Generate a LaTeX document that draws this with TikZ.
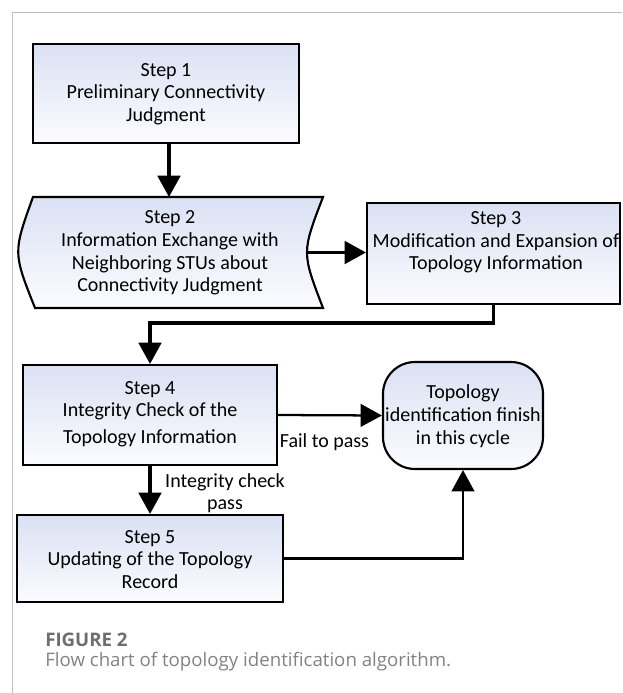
\documentclass[tikz,border=0pt]{standalone}
\usepackage{fontspec}
\setmainfont{Carlito}
\newfontfamily\capfont{Open Sans}
\usetikzlibrary{arrows.meta}
\definecolor{boxtop}{RGB}{218,225,243}
\definecolor{boxbot}{RGB}{252,252,255}
\definecolor{framegray}{RGB}{190,190,190}
\definecolor{capdark}{RGB}{110,110,110}
\definecolor{caplight}{RGB}{130,130,130}
\tikzset{
  boxshade/.style={top color=boxtop, bottom color=boxbot},
  stepbox/.style={draw=black, line width=1.6pt, boxshade, rectangle, inner sep=0pt},
  termbox/.style={draw=black, line width=1.6pt, boxshade, rectangle, rounded corners=24pt, inner sep=0pt},
  txt/.style={align=center, font=\fontsize{15pt}{17pt}\selectfont, inner sep=0pt},
  lbl/.style={align=center, font=\fontsize{15pt}{17pt}\selectfont, inner sep=1pt},
  thickarrow/.style={draw=black, line width=2.3pt, -{Triangle[length=16pt,width=17pt]}},
  thinarrow/.style={draw=black, line width=1.7pt, -{Triangle[length=16pt,width=17pt]}},
}
\begin{document}
\begin{tikzpicture}[x=0.75pt,y=-0.75pt]
\useasboundingbox (0,0) rectangle (622,693);
% outer frame lines
\draw[framegray, line width=1pt] (12.5,693) -- (12.5,12.5) -- (622,12.5);

% Step 1
\node[stepbox, minimum width=266*0.75pt, minimum height=99*0.75pt] (s1) at (166,93.5) {};
\node[txt] (t1) at (166,94) {Step 1\\Preliminary Connectivity\\Judgment};

% Step 2 (stored-data like shape)
\path[draw=black, line width=1.6pt, boxshade]
  (33,197) -- (323,197) .. controls (301.7,252.5) .. (323,308)
  -- (35,308) .. controls (13,252.5) .. (33,197) -- cycle;
\coordinate (s2top) at (169,197);
\coordinate (s2right) at (307,252.5);
\node[txt] (t2) at (170,253) {Step 2\\Information Exchange with\\Neighboring STUs about\\Connectivity Judgment};

% Step 3
\node[stepbox, minimum width=253*0.75pt, minimum height=101*0.75pt] (s3) at (493.5,253.5) {};
\node[txt] (t3) at (496,242.5) {Step 3\\Modification and Expansion of\\Topology Information};

% Step 4
\node[stepbox, minimum width=254*0.75pt, minimum height=100*0.75pt] (s4) at (150,415) {};
\node[txt] (t4) at (150,414) {Step 4\\Integrity Check of the\\[3pt]Topology Information};

% Step 5
\node[stepbox, minimum width=266*0.75pt, minimum height=87*0.75pt] (s5) at (150,558.5) {};
\node[txt] (t5) at (150,559.5) {Step 5\\Updating of the Topology\\Record};

% Terminal
\node[termbox, minimum width=160*0.75pt, minimum height=107*0.75pt] (term) at (463,415.5) {};
\node[txt] (tt) at (463,416) {Topology\\identification finish\\in this cycle};

% connectors
\draw[thickarrow] (s1.south -| s2top) -- (s2top);
\draw[thickarrow] (s2right) -- (s3.west |- s2right);
\coordinate (c1) at (493.5,323);
\coordinate (c2) at (150,323);
\draw[thickarrow] (s3.south) -- (c1) -- (c2) -- (s4.north);
\draw[thinarrow] (s4.east) -- (term.west);
\draw[thickarrow] (s4.south) -- (s5.north);
\draw[thinarrow] (s5.east) -| (term.south);

% labels
\node[lbl] (lfail) at (324.5,442) {Fail to pass};
\node[lbl] (lpass) at (225,493) {Integrity check\\pass};

% caption
\node[anchor=west, inner sep=0pt, font=\capfont\bfseries\fontsize{14pt}{16pt}\selectfont, text=capdark] (fig) at (45,640) {FIGURE 2};
\node[anchor=west, inner sep=0pt, font=\capfont\fontsize{14pt}{16pt}\selectfont, text=caplight] (cap) at (45,662) {Flow chart of topology identification algorithm.};
\end{tikzpicture}
\end{document}
